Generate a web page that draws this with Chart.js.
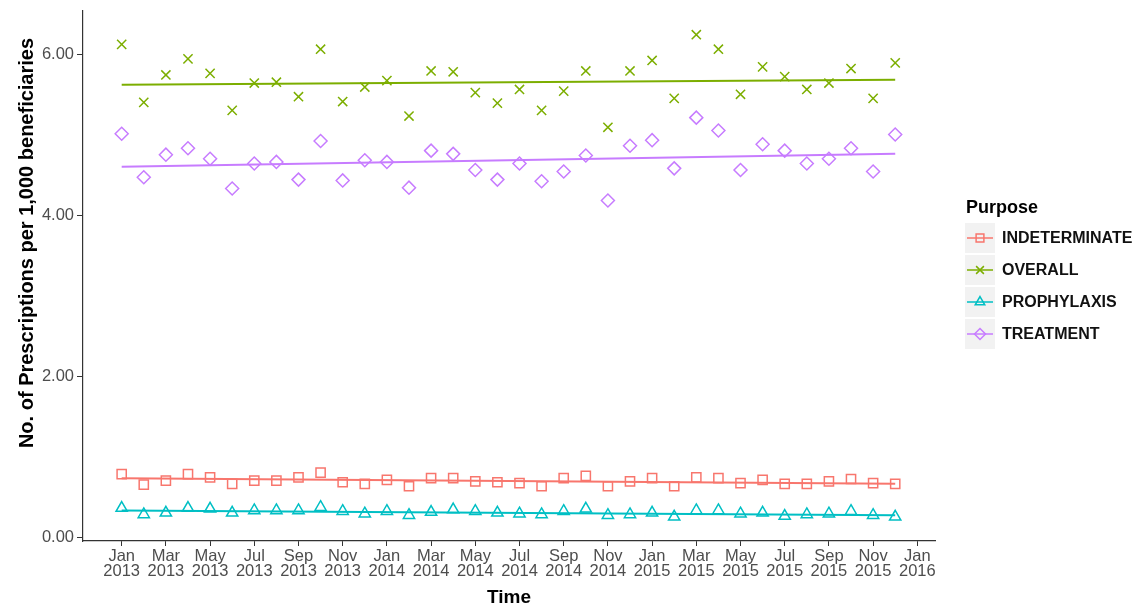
<!DOCTYPE html>
<html>
<head>
<meta charset="utf-8">
<script src="https://cdn.jsdelivr.net/npm/chart.js@4.4.1/dist/chart.umd.min.js"></script>
<style>
  html, body { margin: 0; padding: 0; background: #fff; }
  #wrap { width: 1145px; height: 610px; }
</style>
</head>
<body>
<div id="wrap"><canvas id="rxChart" width="1145" height="610"></canvas></div>
<script>
// monthly points, Jan 2013 .. Dec 2015 (x = index)
const months = [
  'Jan 2013','Feb 2013','Mar 2013','Apr 2013','May 2013','Jun 2013','Jul 2013','Aug 2013','Sep 2013','Oct 2013','Nov 2013','Dec 2013',
  'Jan 2014','Feb 2014','Mar 2014','Apr 2014','May 2014','Jun 2014','Jul 2014','Aug 2014','Sep 2014','Oct 2014','Nov 2014','Dec 2014',
  'Jan 2015','Feb 2015','Mar 2015','Apr 2015','May 2015','Jun 2015','Jul 2015','Aug 2015','Sep 2015','Oct 2015','Nov 2015','Dec 2015'
];

const purposes = ['INDETERMINATE', 'OVERALL', 'PROPHYLAXIS', 'TREATMENT'];

const indeterminate = [0.79,0.66,0.71,0.79,0.75,0.67,0.71,0.71,0.75,0.81,0.69,0.67,
                       0.72,0.64,0.74,0.74,0.70,0.69,0.68,0.64,0.74,0.77,0.64,0.70,
                       0.74,0.64,0.75,0.74,0.68,0.72,0.67,0.67,0.70,0.73,0.68,0.67];
const overall = [6.13,5.41,5.75,5.95,5.77,5.31,5.65,5.66,5.48,6.07,5.42,5.60,
                 5.68,5.24,5.80,5.79,5.53,5.40,5.57,5.31,5.55,5.80,5.10,5.80,
                 5.93,5.46,6.25,6.07,5.51,5.85,5.73,5.57,5.65,5.83,5.46,5.90];
const prophylaxis = [0.37,0.29,0.31,0.37,0.36,0.31,0.34,0.34,0.34,0.38,0.33,0.30,
                     0.33,0.28,0.32,0.35,0.33,0.31,0.30,0.29,0.33,0.36,0.28,0.29,
                     0.31,0.26,0.34,0.34,0.30,0.31,0.27,0.29,0.30,0.33,0.28,0.26];
const treatment = [5.02,4.48,4.76,4.84,4.71,4.34,4.65,4.67,4.45,4.93,4.44,4.69,
                   4.67,4.35,4.81,4.77,4.57,4.45,4.65,4.43,4.55,4.75,4.19,4.87,
                   4.94,4.59,5.22,5.06,4.57,4.89,4.81,4.65,4.71,4.84,4.55,5.01];

// fitted trend, value at first and last month
const trendIndeterminate = [0.74, 0.67];
const trendOverall = [5.63, 5.69];
const trendProphylaxis = [0.34, 0.28];
const trendTreatment = [4.61, 4.77];

const tickPos = [0,2,4,6,8,10,12,14,16,18,20,22,24,26,28,30,32,34,36];
const tickLabels = [
  ['Jan','2013'],['Mar','2013'],['May','2013'],['Jul','2013'],['Sep','2013'],['Nov','2013'],
  ['Jan','2014'],['Mar','2014'],['May','2014'],['Jul','2014'],['Sep','2014'],['Nov','2014'],
  ['Jan','2015'],['Mar','2015'],['May','2015'],['Jul','2015'],['Sep','2015'],['Nov','2015'],
  ['Jan','2016']
];
const yTicks = [0, 2, 4, 6];
const yTitle = 'No. of Prescriptions per 1,000 beneficiaries';

const colors = ['#F8766D', '#7CAE00', '#00BFC4', '#C77CFF'];
const shapes = ['rect', 'crossRot', 'triangle', 'rectRot'];
const series = [indeterminate, overall, prophylaxis, treatment];
const trends = [trendIndeterminate, trendOverall, trendProphylaxis, trendTreatment];

const datasets = [];
series.forEach((vals, k) => {
  datasets.push({
    label: purposes[k],
    data: vals.map((v, i) => ({ x: i, y: v })),
    showLine: false,
    pointStyle: shapes[k],
    pointRadius: 6.5,
    pointBorderWidth: 1.5,
    pointBorderColor: colors[k],
    pointBackgroundColor: 'rgba(0,0,0,0)'
  });
  datasets.push({
    label: purposes[k] + ' trend',
    type: 'line',
    data: [{ x: 0, y: trends[k][0] }, { x: months.length - 1, y: trends[k][1] }],
    borderColor: colors[k],
    borderWidth: 2,
    pointRadius: 0
  });
});

// y title + ggplot-style legend on the right
const purposeLegend = {
  id: 'purposeLegend',
  afterDraw(chart) {
    const ctx = chart.ctx;
    ctx.save();
    ctx.fillStyle = '#000';
    ctx.font = 'bold 20px "Liberation Sans", Arial, sans-serif';
    ctx.textAlign = 'center';
    ctx.textBaseline = 'middle';
    ctx.translate(27, 243);
    ctx.rotate(-Math.PI / 2);
    ctx.fillText(yTitle, 0, 0);
    ctx.restore();

    const x0 = 965, top = 223, step = 32, key = 30;
    ctx.save();
    ctx.fillStyle = '#000';
    ctx.font = 'bold 18px "Liberation Sans", Arial, sans-serif';
    ctx.textBaseline = 'middle';
    ctx.fillText('Purpose', x0 + 1, 208);
    purposes.forEach((name, k) => {
      const y = top + k * step;
      ctx.fillStyle = '#f2f2f2';
      ctx.fillRect(x0, y, key, key);
      const cy = y + key / 2;
      ctx.strokeStyle = colors[k];
      ctx.lineWidth = 1.5;
      ctx.beginPath();
      ctx.moveTo(x0 + 2, cy);
      ctx.lineTo(x0 + key - 2, cy);
      ctx.stroke();
      ctx.fillStyle = 'rgba(0,0,0,0)';
      Chart.helpers.drawPoint(ctx, { pointStyle: shapes[k], radius: 5.5, borderWidth: 1.5, rotation: 0 }, x0 + key / 2, cy);
      ctx.fillStyle = '#111';
      ctx.font = 'bold 16px "Liberation Sans", Arial, sans-serif';
      ctx.fillText(name, x0 + key + 7, cy + 1);
    });
    ctx.restore();
  }
};

const tickFont = { family: '"Liberation Sans", Arial, sans-serif', size: 16.5, lineHeight: 0.92 };
const titleFont = { family: '"Liberation Sans", Arial, sans-serif', size: 19, weight: 'bold' };

new Chart(document.getElementById('rxChart').getContext('2d'), {
  type: 'scatter',
  data: { datasets: datasets },
  options: {
    responsive: false,
    animation: false,
    devicePixelRatio: 1,
    layout: { padding: { top: 10, right: 210, left: 0, bottom: 0 } },
    plugins: { legend: { display: false }, tooltip: { enabled: false } },
    scales: {
      x: {
        type: 'linear',
        min: -1.75,
        max: 36.8,
        afterBuildTicks: s => { s.ticks = tickPos.map(v => ({ value: v })); },
        afterFit: s => { s.height = 69; },
        ticks: {
          autoSkip: false,
          maxRotation: 0,
          padding: 3,
          color: '#4d4d4d',
          font: tickFont,
          callback: (v, i) => tickLabels[i]
        },
        grid: { drawOnChartArea: false, tickLength: 5, color: '#333' },
        border: { color: '#333', width: 1.2 },
        title: { display: true, text: 'Time', color: '#000', font: titleFont, padding: { top: 0, bottom: 1 } }
      },
      y: {
        min: -0.04,
        max: 6.55,
        afterBuildTicks: s => { s.ticks = yTicks.map(v => ({ value: v })); },
        afterFit: s => { s.width = 83; },
        ticks: {
          padding: 3,
          color: '#4d4d4d',
          font: tickFont,
          callback: v => v.toFixed(2)
        },
        grid: { drawOnChartArea: false, tickLength: 6, color: '#333' },
        border: { color: '#333', width: 1.2 },
        title: { display: false }
      }
    }
  },
  plugins: [purposeLegend]
});
</script>
</body>
</html>
